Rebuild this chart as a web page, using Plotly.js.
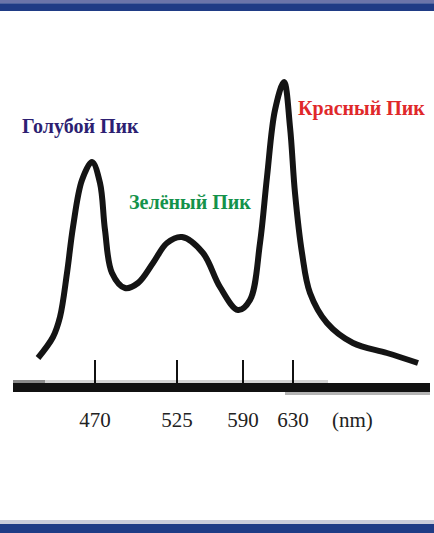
<!DOCTYPE html>
<html>
<head>
<meta charset="utf-8">
<script src="https://cdn.plot.ly/plotly-3.0.1.min.js"></script>
<style>html,body{margin:0;padding:0;background:#fff;}#chart{width:434px;height:533px;}</style>
</head>
<body>
<div id="chart"></div>
<script>
// Spectrum curve: position along the (non-linear) wavelength axis and relative intensity
var axisPos = [38, 53, 60, 67, 73, 82, 92, 100, 105, 112, 125, 138, 153, 167, 182, 203, 220, 238, 250, 260, 267, 275, 284, 290, 295, 302, 310, 327, 353, 387, 418];
var intensity = [30, 51, 71, 115, 161, 208, 226, 205, 158, 115, 100, 105, 125, 145, 151, 135, 101, 78, 88, 145, 211, 278, 306, 261, 195, 135, 95, 65, 45, 35, 25];

// Wavelength ticks (nm)
var tickPos = [95, 177, 243, 293];
var tickLabels = ['470', '525', '590', '630'];

// Peak labels
var peakNames = ['Голубой Пик', 'Зелёный Пик', 'Красный Пик'];
var peakColors = ['#2d1f72', '#14924a', '#e0282a'];
var peakLabelX = [80, 190, 361];
var peakLabelY = [262, 186, 280];

var W = 434, H = 533, L = 13, R = 4, T = 0, B = 150;
var pw = W - L - R, ph = H - T - B;
function px(x) { return (x - L) / pw; }
function py(y) { return (H - B - y) / ph; }
var serif = 'Liberation Serif, Times New Roman, serif';

var annotations = peakNames.map(function (t, i) {
  return {
    text: t, x: peakLabelX[i], y: peakLabelY[i], xref: 'x', yref: 'y',
    showarrow: false, xanchor: 'center', yanchor: 'middle',
    font: {family: serif, size: 20, color: peakColors[i], weight: 'bold'}
  };
});
annotations.push({
  text: '(nm)', x: px(352), y: py(420), xref: 'paper', yref: 'paper',
  showarrow: false, xanchor: 'center', yanchor: 'middle',
  font: {family: serif, size: 21, color: '#222'}
});

var shapes = [
  {type: 'rect', xref: 'paper', yref: 'paper', x0: px(0), x1: px(434), y0: py(0), y1: py(3.3), fillcolor: '#6b74a9', line: {width: 0}},
  {type: 'rect', xref: 'paper', yref: 'paper', x0: px(0), x1: px(434), y0: py(3.3), y1: py(11), fillcolor: '#1f3b85', line: {width: 0}},
  {type: 'rect', xref: 'paper', yref: 'paper', x0: px(0), x1: px(434), y0: py(520), y1: py(524), fillcolor: '#c9cbd9', line: {width: 0}},
  {type: 'rect', xref: 'paper', yref: 'paper', x0: px(0), x1: px(434), y0: py(524), y1: py(533), fillcolor: '#1f3b85', line: {width: 0}},
  {type: 'rect', xref: 'paper', yref: 'paper', x0: px(13), x1: px(328), y0: py(380), y1: py(383), fillcolor: '#d4d4d4', line: {width: 0}, layer: 'below'},
  {type: 'rect', xref: 'paper', yref: 'paper', x0: px(13), x1: px(45), y0: py(380), y1: py(383), fillcolor: '#8a8a8a', line: {width: 0}, layer: 'below'},
  {type: 'rect', xref: 'paper', yref: 'paper', x0: px(285), x1: px(430), y0: py(391), y1: py(395), fillcolor: '#b4b4b4', line: {width: 0}, layer: 'below'}
];

var trace = {
  x: axisPos, y: intensity, type: 'scatter', mode: 'lines',
  line: {color: '#141414', width: 6, shape: 'spline', smoothing: 1},
  hoverinfo: 'skip', cliponaxis: false
};

var layout = {
  width: W, height: H,
  margin: {l: L, r: R, t: T, b: B},
  paper_bgcolor: '#ffffff', plot_bgcolor: '#ffffff',
  showlegend: false,
  xaxis: {
    range: [L, W - R], showgrid: false, zeroline: false,
    showline: true, linecolor: '#111', linewidth: 9,
    ticks: 'inside', ticklen: 23, tickwidth: 2.5, tickcolor: '#111',
    tickmode: 'array', tickvals: tickPos, ticktext: tickLabels,
    ticklabelstandoff: 10,
    tickfont: {family: serif, size: 21, color: '#222'},
    fixedrange: true
  },
  yaxis: {range: [5, ph + 5], visible: false, fixedrange: true},
  shapes: shapes,
  annotations: annotations
};

Plotly.newPlot('chart', [trace], layout, {displayModeBar: false, staticPlot: true});
</script>
</body>
</html>
